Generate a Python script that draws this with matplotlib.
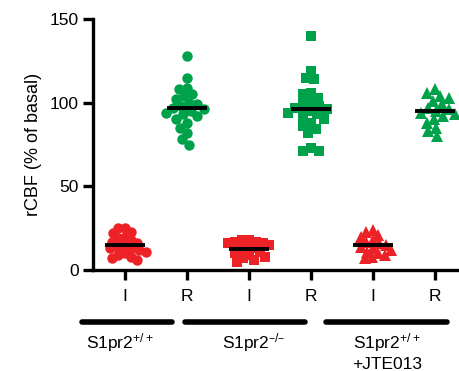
import numpy as np
import matplotlib
matplotlib.use('Agg')
import matplotlib.pyplot as plt
import matplotlib.transforms as mtransforms

plt.rcParams['font.family'] = ['Liberation Sans', 'DejaVu Sans']
plt.rcParams['mathtext.default'] = 'regular'

# values (% of basal)
wt_I = [25, 25, 23, 22, 20, 19, 18, 17, 16, 15, 14, 13, 13, 12, 11, 10, 9, 8, 7, 6]
wt_R = [128, 115, 109, 108, 105, 104, 102, 100, 99, 98, 97, 96, 95, 94, 93, 92, 90, 88, 85, 82, 78, 75]
ko_I = [18, 18, 17, 17, 16, 16, 15, 14, 13, 12, 11, 10, 9, 8, 7, 6, 5]
ko_R = [140, 119, 115, 114, 106, 105, 103, 100, 99, 98, 97, 96, 95, 94, 93, 92, 90, 88, 86, 84, 82, 73, 71, 71]
jte_I = [24, 23, 21, 20, 18, 17, 16, 15, 14, 13, 12, 11, 10, 9, 8, 7]
jte_R = [108, 106, 104, 103, 101, 99, 97, 96, 95, 94, 93, 92, 90, 88, 85, 83, 80]

series = [wt_I, wt_R, ko_I, ko_R, jte_I, jte_R]
tick_labels = ['I', 'R', 'I', 'R', 'I', 'R']
markers = ['o', 'o', 's', 's', '^', '^']
groups = ['S1pr2$^{+/+}$', 'S1pr2$^{\u2013/\u2013}$', 'S1pr2$^{+/+}$\n+JTE013']

red = '#ec2227'
green = '#00a14b'
colors = [red, green, red, green, red, green]
spacing = [7.0, 8.5, 7.0, 8.5, 7.0, 8.5]

fig = plt.figure(figsize=(4.59, 3.71), dpi=100)
ax = fig.add_axes([93 / 459, 1 - 270 / 371, 1 - 93 / 459, 251 / 371])
ax.set_xlim(0.484, 6.387)
ax.set_ylim(0, 150)


def swarm(vals, x_px_per_unit, y_px_per_unit, dmin):
    # simple beeswarm: place points in pixel space, allow some overlap
    order = np.argsort(vals)[::-1]
    placed = []
    offs = np.zeros(len(vals))
    for i in order:
        y = vals[i] * y_px_per_unit
        cands = [0.0]
        for px, py in placed:
            dy = abs(py - y)
            if dy < dmin:
                w = np.sqrt(dmin ** 2 - dy ** 2)
                cands += [px - w, px + w]
        cands.sort(key=abs)
        for c in cands:
            ok = True
            for px, py in placed:
                if (px - c) ** 2 + (py - y) ** 2 < dmin ** 2 - 1e-6:
                    ok = False
                    break
            if ok:
                break
        placed.append((c, y))
        offs[i] = c / x_px_per_unit
    return offs


xpx = 62.0
ypx = 251 / 150
for i, vals in enumerate(series):
    vals = np.array(vals, dtype=float)
    x = i + 1
    offs = swarm(vals, xpx, ypx, spacing[i])
    ms = 7.5 if markers[i] == 'o' else (7 if markers[i] == 's' else 8.5)
    ax.plot(x + offs, vals, linestyle='none', marker=markers[i], color=colors[i],
            markersize=ms, markeredgewidth=0, clip_on=False, zorder=2)
    m = vals.mean()
    ax.plot([x - 0.33, x + 0.33], [m, m], color='black', linewidth=2.8, zorder=3,
            solid_capstyle='butt')

for s in ['top', 'right']:
    ax.spines[s].set_visible(False)
ax.spines['left'].set_linewidth(2.4)
ax.spines['bottom'].set_linewidth(2.4)
ax.set_yticks([0, 50, 100, 150])
ax.set_xticks(range(1, 7))
ax.set_xticklabels(tick_labels)
ax.tick_params(axis='both', width=2.4, length=7, labelsize=12.5, direction='out')
ax.tick_params(axis='x', pad=7)
ax.tick_params(axis='y', pad=3)
ax.set_ylabel('rCBF (% of basal)', fontsize=13, labelpad=6)

# group bars and labels below the axis
trans = mtransforms.blended_transform_factory(ax.transData, ax.transAxes)
bar_spans = [(0.31, 1.76), (1.97, 3.9), (4.24, 6.19)]
label_x = [0.92, 3.07, 5.22]
for (a, b), lab, lx in zip(bar_spans, groups, label_x):
    ax.plot([a, b], [-0.207, -0.207], transform=trans, color='black', linewidth=4,
            solid_capstyle='round', clip_on=False)
    ax.text(lx, -0.245, lab, transform=trans, ha='center', va='top', fontsize=12.5,
            linespacing=1.25)

fig.savefig('out.png', dpi=100)
